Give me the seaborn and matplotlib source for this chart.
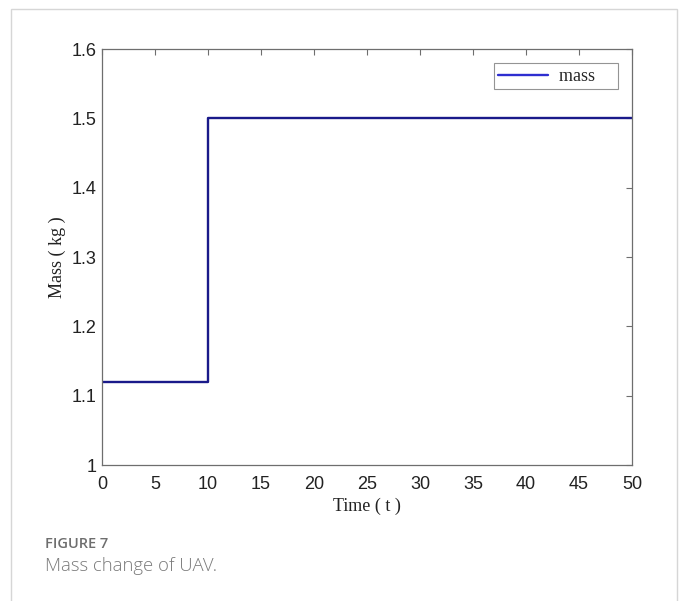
import matplotlib
matplotlib.use("Agg")
import matplotlib.pyplot as plt
import seaborn as sns
import pandas as pd
from matplotlib.patches import Rectangle

# Step profile of the UAV mass over time
time = [0, 10, 50]
mass = [1.12, 1.5, 1.5]
x_ticks = [0, 5, 10, 15, 20, 25, 30, 35, 40, 45, 50]
y_ticks = [1.0, 1.1, 1.2, 1.3, 1.4, 1.5, 1.6]
y_tick_labels = ["1", "1.1", "1.2", "1.3", "1.4", "1.5", "1.6"]

sns.set_theme(style="white")
plt.rcParams["font.family"] = ["Liberation Sans", "DejaVu Sans"]

W, H = 681, 601
fig = plt.figure(figsize=(W / 100, H / 100), dpi=100)
ax = fig.add_axes([102 / W, 1 - 465 / H, (632 - 102) / W, (465 - 49) / H])

df = pd.DataFrame({"time": time, "mass": mass})
# trailing spaces widen the legend box on the right, MATLAB style
sns.lineplot(data=df, x="time", y="mass", ax=ax, color="#1a1a8a",
             linewidth=1.7, drawstyle="steps-post", label="mass    ")

ax.set_xlim(0, 50)
ax.set_ylim(1.0, 1.6)
ax.set_xticks(x_ticks)
ax.set_xticklabels([str(t) for t in x_ticks])
ax.set_yticks(y_ticks)
ax.set_yticklabels(y_tick_labels)

for s in ax.spines.values():
    s.set_visible(True)
    s.set_color("#6e6e6e")
    s.set_linewidth(0.9)

ax.tick_params(axis="both", which="both", direction="in", length=4, width=0.8,
               color="#6e6e6e", top=True, right=True, labelsize=13,
               labelcolor="#222222")
ax.tick_params(axis="x", pad=8)
ax.tick_params(axis="y", pad=4)

serif = ["Liberation Serif", "DejaVu Serif"]
ax.set_xlabel("Time ( t )", family=serif, fontsize=13, color="#222222", labelpad=3)
ax.set_ylabel("Mass ( kg )", family=serif, fontsize=13, color="#222222", labelpad=4)

leg = ax.legend(loc="upper right", frameon=True, fancybox=False,
                prop={"family": serif, "size": 13},
                handlelength=2.77, handletextpad=0.6, borderpad=0.25,
                borderaxespad=0.8, bbox_to_anchor=(1.0, 1.0))
leg.get_frame().set_edgecolor("#7a7a7a")
leg.get_frame().set_linewidth(0.8)
for line in leg.get_lines():
    line.set_color("#2e2ed0")
    line.set_linewidth(1.7)

# Outer card border
fig.patches.append(Rectangle((11 / W, -0.02), (677 - 11) / W, 1 - 9 / H + 0.02,
                             transform=fig.transFigure, fill=False,
                             edgecolor="#d6d6d6", linewidth=1.0))

sans = ["Open Sans", "DejaVu Sans"]
fig.text(45 / W, 1 - 543.5 / H, "FIGURE 7", family=sans,
         fontsize=10.5, fontweight="semibold", color="#6e6e6e", va="center", ha="left")
fig.text(45 / W, 1 - 566 / H, "Mass change of UAV.", family=sans,
         fontsize=13.3, fontweight="light", color="#7a7a7a", va="center", ha="left")

fig.savefig("out.png", dpi=100)
